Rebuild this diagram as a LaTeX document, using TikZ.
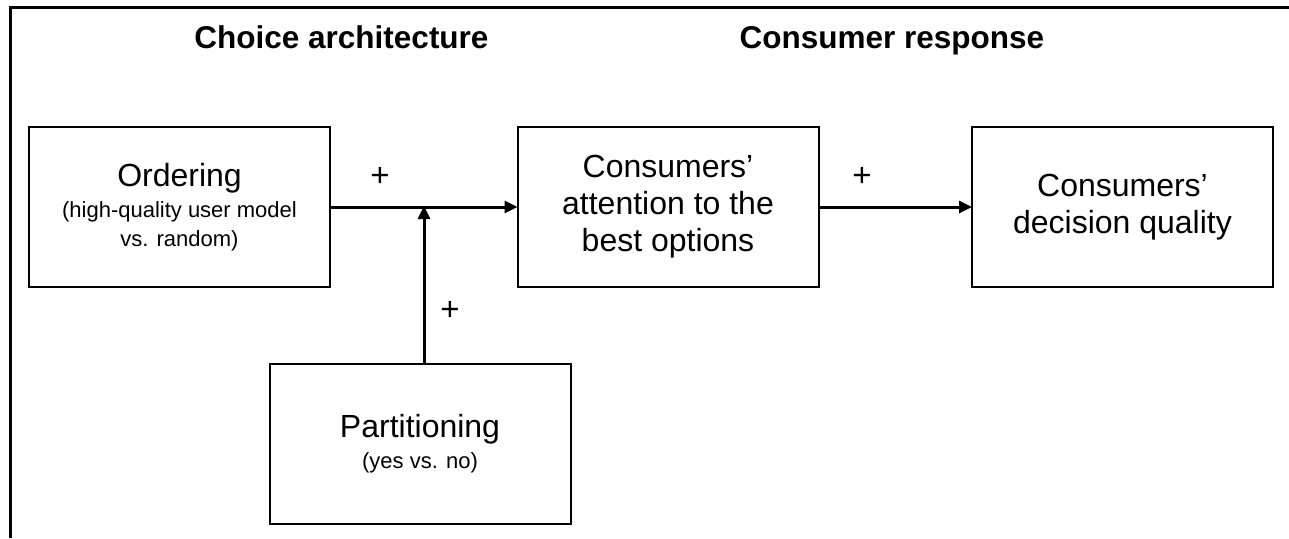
\documentclass[tikz,border=0pt]{standalone}
\usepackage{fontspec}
\setmainfont{Liberation Sans}
\usetikzlibrary{arrows.meta}
\tikzset{
  box/.style={draw=black, line width=2pt, minimum width=301pt, minimum height=160pt, inner sep=0pt, align=center, font=\fontsize{32}{37}\selectfont},
  conn/.style={line width=3pt, -{Triangle[length=13pt,width=12pt]}, shorten >=-1pt},
  plus/.style={font=\fontsize{33}{37}\selectfont, inner sep=0pt},
  title/.style={font=\bfseries\fontsize{31.5}{36}\selectfont, anchor=base, inner sep=0pt},
  frame/.style={line width=3pt}
}
\begin{document}
\begin{tikzpicture}[x=1pt,y=-1pt]
\useasboundingbox (0,0) rectangle (1289,538);
\coordinate (fa) at (1289,7);
\coordinate (fb) at (10,7);
\coordinate (fc) at (10,538);
\draw[frame] (fa) -- (fb) -- (fc);
\node[title] (t1) at (341.5,48) {Choice architecture};
\node[title] (t2) at (892,48) {Consumer response};
\node[box] (ord) at (179.5,207) {Ordering\\[-6pt]{\fontsize{22}{27}\selectfont (high-quality user model}\\[-8pt]{\fontsize{22}{27}\selectfont vs. random)}};
\node[box] (att) at (668,207) {Consumers'\\attention to the\\best options};
\node[box] (dec) at (1122.5,207) {Consumers'\\decision quality};
\node[box] (par) at (420,444) {Partitioning\\[-6pt]{\fontsize{22}{27}\selectfont (yes vs. no)}};
\coordinate (j) at (par.north |- ord.east);
\draw[conn] (ord.east) -- (att.west);
\draw[conn] (att.east) -- (dec.west);
\draw[conn] ([xshift=4pt]par.north) -- ([xshift=4pt]j);
\node[plus] (p1) at (380,177) {+};
\node[plus] (p2) at (862,177) {+};
\node[plus] (p3) at (450,311) {+};
\end{tikzpicture}
\end{document}
